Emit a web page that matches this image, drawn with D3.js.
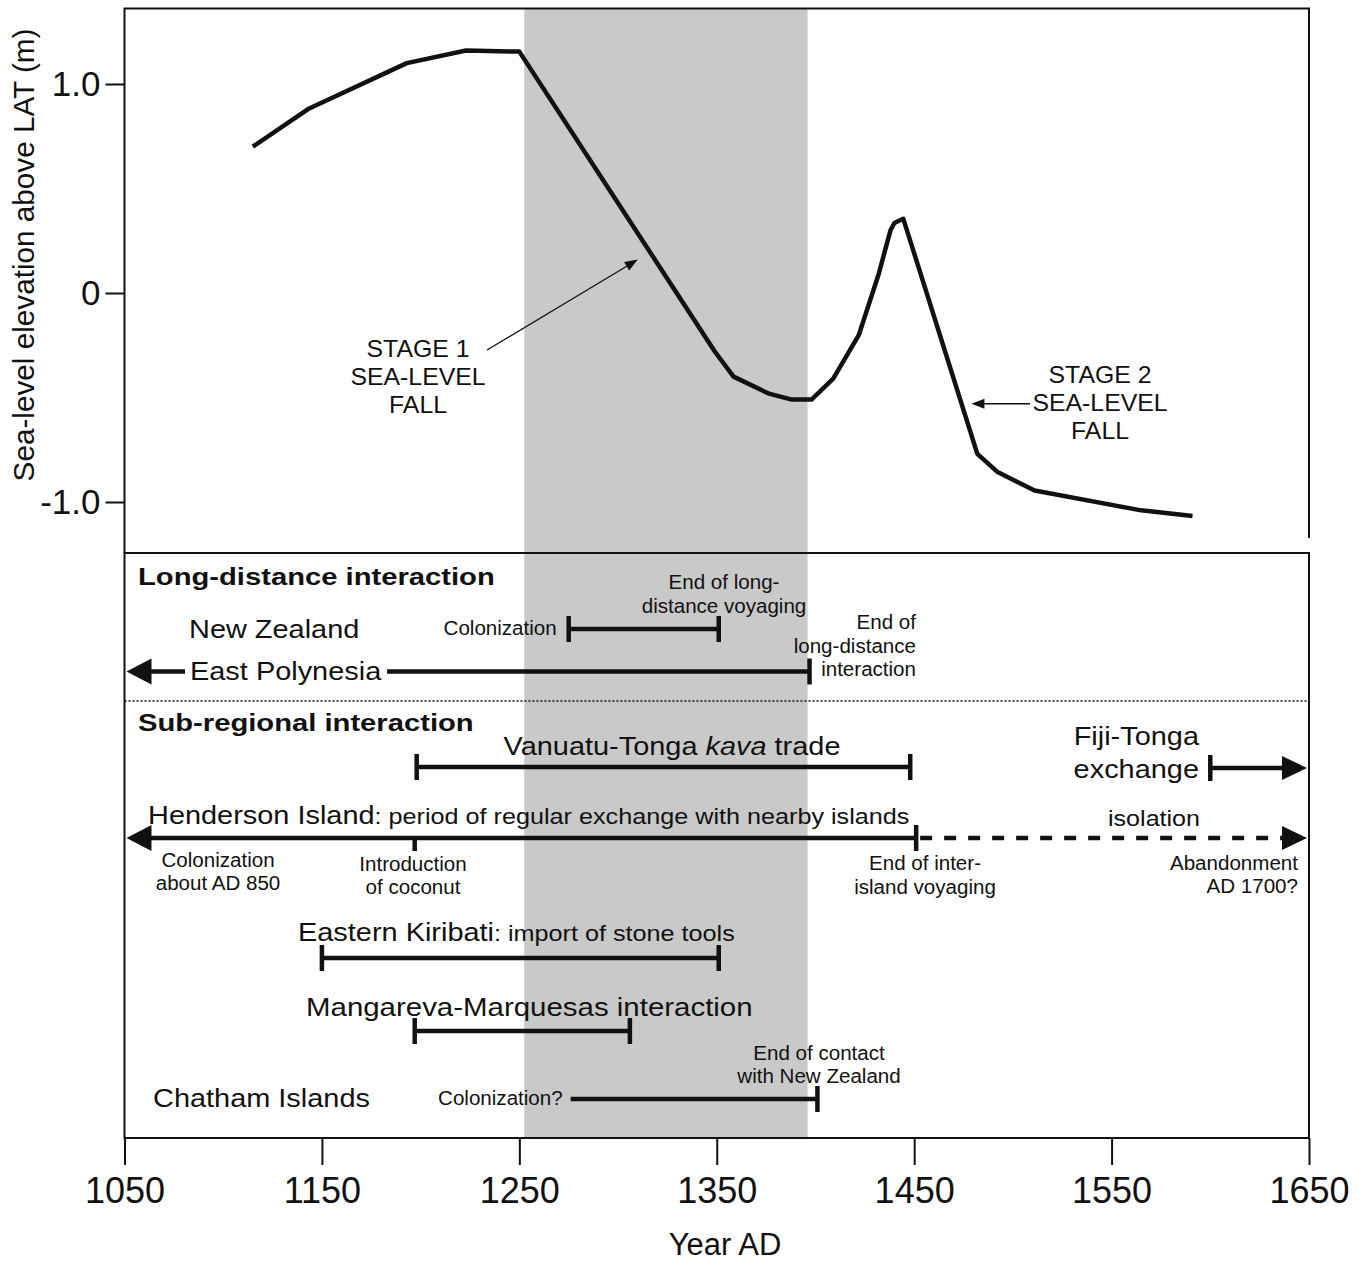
<!DOCTYPE html>
<html>
<head>
<meta charset="utf-8">
<script src="https://cdn.jsdelivr.net/npm/d3@7"></script>
<style>
  body { margin: 0; background: #fff; }
  svg text { font-family: "Liberation Sans", Arial, Helvetica, sans-serif; fill: #111; }
</style>
</head>
<body>
<svg id="chart" width="1367" height="1263"></svg>
<script>
// ---- data ----
var yearTicks = [1050, 1150, 1250, 1350, 1450, 1550, 1650];
var levelTicks = [-1, 0, 1];

// sea level curve (year AD, m above LAT)
var seaYear  = [1115, 1143, 1193, 1223, 1250, 1349, 1358.5, 1376, 1388, 1398, 1409, 1422, 1432, 1438, 1440, 1444.5, 1482, 1492, 1511, 1565, 1591];
var seaLevel = [0.70, 0.88, 1.10, 1.16, 1.155, -0.28, -0.40, -0.48, -0.51, -0.51, -0.41, -0.20, 0.09, 0.30, 0.335, 0.355, -0.77, -0.855, -0.945, -1.04, -1.067];

// grey period
var shadeSpan = [1252.5, 1396];

// interaction spans
var spanName  = ["New Zealand", "East Polynesia", "Vanuatu-Tonga", "Fiji-Tonga", "Henderson Island", "Eastern Kiribati", "Mangareva-Marquesas", "Chatham Islands"];
var spanStart = [1275, 1050, 1198, 1600, 1050, 1150, 1197, 1276];
var spanEnd   = [1351, 1397, 1448, 1650, 1451, 1351, 1306, 1401];
var isolationSpan = [1451, 1650];
var coconutYear = 1197;

// arrow targets on the curve
var stage1Point = [1310, 0.16];
var stage2Point = [1479, -0.53];

// ---- layout ----
var svg = d3.select("#chart");
var x = d3.scaleLinear().domain([1050, 1650]).range([124.5, 1309]);
var y = d3.scaleLinear().domain([-1, 1]).range([502, 84]);
var ink = "#111";

function label(g, px, py, txt, o) {
  o = o || {};
  var t = g.append("text")
    .attr("transform", "translate(" + px + "," + py + ") scale(" + (o.sx || 1) + ",1)")
    .attr("text-anchor", o.anchor || "start")
    .style("font-size", (o.size || 20) + "px")
    .style("font-weight", o.weight || "normal");
  if (txt != null) t.text(txt);
  return t;
}
function arrowHead(g, tx, ty, ux, uy, len, half) {
  var nx = -uy, ny = ux;
  var bx = tx - ux * len, by = ty - uy * len;
  g.append("path")
    .attr("d", "M" + tx + "," + ty + "L" + (bx + nx * half) + "," + (by + ny * half) + "L" + (bx - nx * half) + "," + (by - ny * half) + "Z")
    .attr("fill", ink);
}

// shaded band spanning both panels
svg.append("rect")
  .attr("x", x(shadeSpan[0])).attr("width", x(shadeSpan[1]) - x(shadeSpan[0]))
  .attr("y", 9).attr("height", 1138 - 9)
  .attr("fill", "#c9c9c9");

// ---- top panel ----
var topG = svg.append("g");
topG.append("path")
  .attr("d", "M124.5,553V8.5H1309V538")
  .attr("fill", "none").attr("stroke", ink).attr("stroke-width", 2);

var yAxis = topG.append("g").attr("transform", "translate(124.5,0)")
  .call(d3.axisLeft(y).tickValues(levelTicks).tickSize(19).tickPadding(5)
    .tickFormat(function(d) { return d === 0 ? "0" : d.toFixed(1); }));
yAxis.select(".domain").remove();
yAxis.selectAll("line").attr("stroke", ink).attr("stroke-width", 2);
yAxis.selectAll("text").style("font-size", "35px").style("font-family", "Liberation Sans, Arial, sans-serif").attr("fill", ink);

label(topG, 34, 255, null, { size: 30, anchor: "middle" })
  .attr("transform", "translate(34,255) rotate(-90) scale(0.99,1)")
  .text("Sea-level elevation above LAT (m)");

var seaData = seaYear.map(function(d, i) { return [d, seaLevel[i]]; });
topG.append("path")
  .datum(seaData)
  .attr("d", d3.line().x(function(d) { return x(d[0]); }).y(function(d) { return y(d[1]); }))
  .attr("fill", "none").attr("stroke", ink).attr("stroke-width", 4.5)
  .attr("stroke-linejoin", "round");

// stage annotations
var st = { size: 23, anchor: "middle", sx: 1.08 };
label(topG, 418, 357, "STAGE 1", st);
label(topG, 418, 385, "SEA-LEVEL", st);
label(topG, 418, 413, "FALL", st);
label(topG, 1100, 383, "STAGE 2", st);
label(topG, 1100, 411, "SEA-LEVEL", st);
label(topG, 1100, 439, "FALL", st);

(function() {
  var sx = 487, sy = 350, tx = x(stage1Point[0]), ty = y(stage1Point[1]);
  var dx = tx - sx, dy = ty - sy, l = Math.sqrt(dx * dx + dy * dy);
  topG.append("line").attr("x1", sx).attr("y1", sy).attr("x2", tx - dx / l * 10).attr("y2", ty - dy / l * 10)
    .attr("stroke", ink).attr("stroke-width", 1.3);
  arrowHead(topG, tx, ty, dx / l, dy / l, 13, 5);
  var t2x = x(stage2Point[0]), t2y = y(stage2Point[1]);
  topG.append("line").attr("x1", 1030).attr("y1", t2y).attr("x2", t2x + 10).attr("y2", t2y)
    .attr("stroke", ink).attr("stroke-width", 1.3);
  arrowHead(topG, t2x, t2y, -1, 0, 13, 5);
})();

// ---- bottom panel ----
var botG = svg.append("g");
botG.append("rect").attr("x", 124.5).attr("y", 553).attr("width", 1309 - 124.5).attr("height", 1138 - 553)
  .attr("fill", "none").attr("stroke", ink).attr("stroke-width", 2);
botG.append("line").attr("x1", 124.5).attr("x2", 1309).attr("y1", 701).attr("y2", 701)
  .attr("stroke", ink).attr("stroke-width", 1.5).attr("stroke-dasharray", "2,2");

var big = { size: 25.6, sx: 1.13 };
var small = { size: 19.6, sx: 1.05 };
var bold = { size: 23, sx: 1.27, weight: "bold" };

label(botG, 138, 585, "Long-distance interaction", bold);
label(botG, 138, 731, "Sub-regional interaction", bold);

// row layout: y of each bar, kind of ends
var rowY    = [629, 671.5, 767, 768, 838, 958, 1031, 1099];
var leftEnd = ["cap", "arrow", "cap", "cap", "arrow", "cap", "cap", "none"];
var rightEnd = ["cap", "cap", "cap", "arrow", "cap", "cap", "cap", "cap"];

var bars = botG.append("g");
spanName.forEach(function(name, i) {
  var yy = rowY[i], x0 = x(spanStart[i]), x1 = x(spanEnd[i]);
  var a = x0, b = x1;
  if (leftEnd[i] === "arrow") { arrowHead(bars, x0 + 2, yy, -1, 0, 25, 13); a = x0 + 25; }
  if (rightEnd[i] === "arrow") { arrowHead(bars, x1 - 2, yy, 1, 0, 25, 12); b = x1 - 25; }
  bars.append("line").attr("class", "bar" + i).attr("x1", a).attr("x2", b).attr("y1", yy).attr("y2", yy)
    .attr("stroke", ink).attr("stroke-width", 4.5);
  [[leftEnd[i], x0], [rightEnd[i], x1]].forEach(function(e) {
    if (e[0] === "cap") {
      bars.append("line").attr("x1", e[1]).attr("x2", e[1]).attr("y1", yy - 13).attr("y2", yy + 13)
        .attr("stroke", ink).attr("stroke-width", 4.5);
    }
  });
});

// Henderson isolation (dashed) and coconut tick
var hy = rowY[4];
bars.append("line").attr("x1", x(isolationSpan[0]) + 4).attr("x2", x(isolationSpan[1]) - 26)
  .attr("y1", hy).attr("y2", hy).attr("stroke", ink).attr("stroke-width", 4.5).attr("stroke-dasharray", "12,12");
arrowHead(bars, x(isolationSpan[1]) - 2, hy, 1, 0, 25, 12);
bars.append("line").attr("x1", x(coconutYear)).attr("x2", x(coconutYear)).attr("y1", hy).attr("y2", hy + 13)
  .attr("stroke", ink).attr("stroke-width", 4.5);

// labels
label(botG, 189, 638, "New Zealand", big);
label(botG, x(spanStart[0]) - 12, 635, "Colonization", Object.assign({ anchor: "end" }, small));
label(botG, 724, 589, "End of long-", Object.assign({ anchor: "middle" }, small));
label(botG, 724, 613, "distance voyaging", Object.assign({ anchor: "middle" }, small));
label(botG, 916, 629, "End of", Object.assign({ anchor: "end" }, small));
label(botG, 916, 653, "long-distance", Object.assign({ anchor: "end" }, small));
label(botG, 916, 676, "interaction", Object.assign({ anchor: "end" }, small));

// East Polynesia sits in a gap of its line (white knock-out under the text)
var ep = label(botG, 190, 680, "East Polynesia", big);
var bb = ep.node().getBoundingClientRect();
bars.append("rect").attr("x", bb.left - 5).attr("y", rowY[1] - 6).attr("width", bb.width + 10).attr("height", 12)
  .attr("fill", "#fff");

var van = label(botG, 672, 754.5, null, Object.assign({ anchor: "middle" }, big));
van.append("tspan").text("Vanuatu-Tonga ");
van.append("tspan").style("font-style", "italic").text("kava");
van.append("tspan").text(" trade");

label(botG, 1199, 744.5, "Fiji-Tonga", Object.assign({ anchor: "end" }, big));
label(botG, 1199, 777.5, "exchange", Object.assign({ anchor: "end" }, big));

var hen = label(botG, 148, 823.5, null, big);
hen.append("tspan").text("Henderson Island");
hen.append("tspan").style("font-size", "22.3px").text(": period of regular exchange with nearby islands");
label(botG, 1154, 826, "isolation", { size: 22, sx: 1.14, anchor: "middle" });

label(botG, 218, 867, "Colonization", Object.assign({ anchor: "middle" }, small));
label(botG, 218, 890, "about AD 850", Object.assign({ anchor: "middle" }, small));
label(botG, 413, 871, "Introduction", Object.assign({ anchor: "middle" }, small));
label(botG, 413, 894, "of coconut", Object.assign({ anchor: "middle" }, small));
label(botG, 925, 870, "End of inter-", Object.assign({ anchor: "middle" }, small));
label(botG, 925, 894, "island voyaging", Object.assign({ anchor: "middle" }, small));
label(botG, 1298, 870, "Abandonment", Object.assign({ anchor: "end" }, small));
label(botG, 1298, 893, "AD 1700?", Object.assign({ anchor: "end" }, small));

var kir = label(botG, 298, 940.5, null, big);
kir.append("tspan").text("Eastern Kiribati");
kir.append("tspan").style("font-size", "22.3px").text(": import of stone tools");

label(botG, 306, 1015.5, "Mangareva-Marquesas interaction", { size: 25.6, sx: 1.15 });

label(botG, 819, 1060, "End of contact", Object.assign({ anchor: "middle" }, small));
label(botG, 819, 1083, "with New Zealand", Object.assign({ anchor: "middle" }, small));
label(botG, 153, 1106.5, "Chatham Islands", big);
label(botG, x(spanStart[7]) - 8, 1105, "Colonization?", Object.assign({ anchor: "end" }, small));

// ---- x axis ----
var xAxis = svg.append("g").attr("transform", "translate(0,1138)")
  .call(d3.axisBottom(x).tickValues(yearTicks).tickSize(27).tickPadding(12).tickFormat(d3.format("d")));
xAxis.select(".domain").remove();
xAxis.selectAll("line").attr("stroke", ink).attr("stroke-width", 2);
xAxis.selectAll("text").style("font-size", "36px").style("font-family", "Liberation Sans, Arial, sans-serif").attr("fill", ink);

label(svg, 725, 1255, "Year AD", { size: 31, sx: 1.0, anchor: "middle" });
</script>
</body>
</html>
